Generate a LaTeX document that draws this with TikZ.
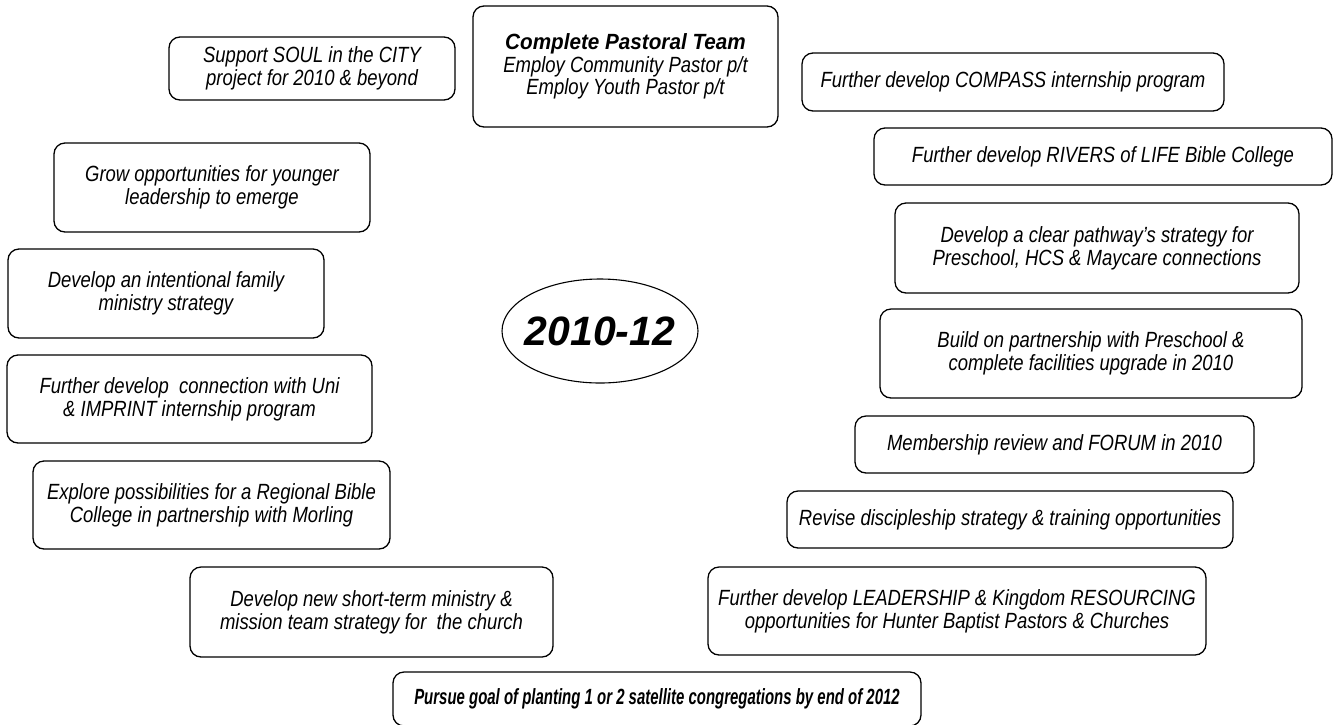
\documentclass[tikz,border=0pt]{standalone}
\usepackage{fontspec}
\setmainfont[FakeStretch=0.84]{Liberation Sans}
\newfontfamily\teamfont[FakeStretch=0.94]{Liberation Sans}
\newfontfamily\pursuefont[FakeStretch=0.68]{Liberation Sans}
\newfontfamily\yearfont{Liberation Sans}
\usetikzlibrary{shapes.geometric}
\begin{document}
\begin{tikzpicture}[x=1pt,y=-1pt,
  goalbox/.style={draw, rounded corners=11pt, line width=1.3pt, inner sep=0pt, align=center,
    font=\fontsize{22}{22.7}\selectfont\itshape},
  bx/.style n args={2}{minimum width=#1pt, minimum height=#2pt}]
\useasboundingbox (0,0) rectangle (1338,724);
\clip (0,0) rectangle (1338,724);
% left / top
\node[goalbox, bx={286}{63}] (soul) at (312,68.5) {Support SOUL in the CITY\\project for 2010 \& beyond};
\node[goalbox, bx={305}{121}] (pastor) at (625.5,66.5) {{\teamfont\bfseries Complete Pastoral Team}\\Employ Community Pastor p/t\\Employ Youth Pastor p/t};
\node[goalbox, bx={422}{58}] (compass) at (1013,82) {Further develop COMPASS internship program};
\node[goalbox, bx={458}{57}] (rivers) at (1103,156.5) {Further develop RIVERS of LIFE Bible College};
\node[goalbox, bx={404}{90}] (pathway) at (1097,248) {Develop a clear pathway’s strategy for\\Preschool, HCS \& Maycare connections};
\node[goalbox, bx={422}{89}] (build) at (1091,353.5) {Build on partnership with Preschool \&\\complete facilities upgrade in 2010};
\node[goalbox, bx={399}{57}] (member) at (1054.5,444.5) {Membership review and FORUM in 2010};
\node[goalbox, bx={446}{57}] (revise) at (1010,519.5) {Revise discipleship strategy \& training opportunities};
\node[goalbox, bx={498}{88}] (leader) at (957,611) {Further develop LEADERSHIP \& Kingdom RESOURCING\\opportunities for Hunter Baptist Pastors \& Churches};
\node[goalbox, bx={528}{54}] (plant) at (657,699) {\pursuefont\bfseries Pursue goal of planting 1 or 2 satellite congregations by end of 2012};
\node[goalbox, bx={316}{89}] (grow) at (212,187.5) {Grow opportunities for younger\\leadership to emerge};
\node[goalbox, bx={316}{89}] (family) at (166,293.5) {Develop an intentional family\\ministry strategy};
\node[goalbox, bx={365}{88}] (uni) at (189.5,399) {Further develop \ connection with Uni\\\& IMPRINT internship program};
\node[goalbox, bx={357}{88}] (regional) at (211.5,505) {Explore possibilities for a Regional Bible\\College in partnership with Morling};
\node[goalbox, bx={363}{90}] (short) at (371.5,612) {Develop new short-term ministry \&\\mission team strategy for \ the church};
% centre
\node[inner sep=0pt, font=\yearfont\fontsize{41}{46}\selectfont\bfseries\itshape] (year) at (600,331) {2010-12};
\draw[line width=1.1pt] (year.center) ellipse [x radius=98pt, y radius=52pt];
\end{tikzpicture}
\end{document}
